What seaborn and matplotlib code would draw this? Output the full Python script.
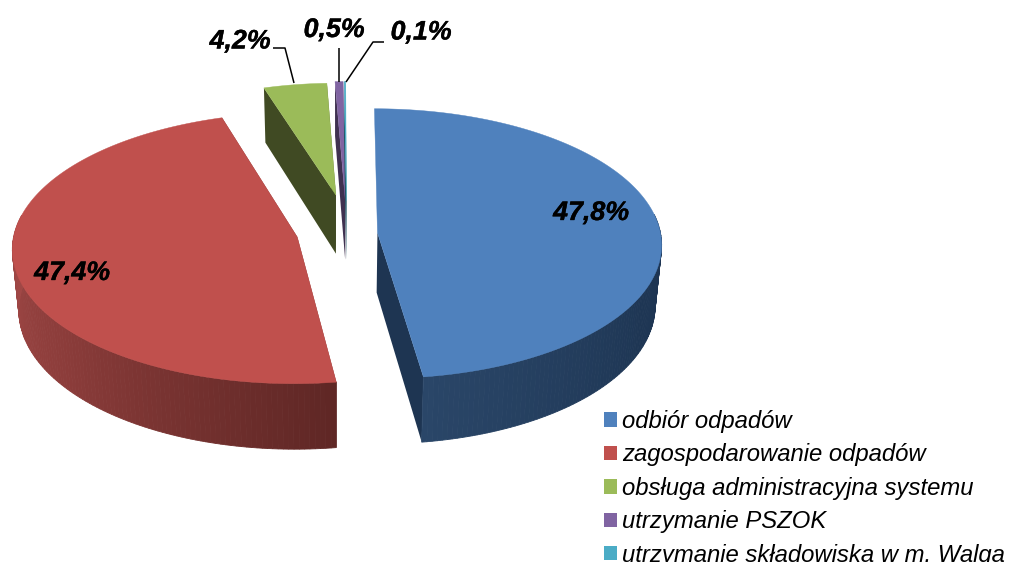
import numpy as np
import seaborn as sns
import matplotlib.pyplot as plt
import matplotlib.patheffects as pe
from matplotlib.patches import Patch

# values
categories = ["odbiór odpadów", "zagospodarowanie odpadów", "obsługa administracyjna systemu",
              "utrzymanie PSZOK", "utrzymanie składowiska w m. Walga"]
shares = [47.8, 47.4, 4.2, 0.5, 0.1]
share_labels = ["47,8%", "47,4%", "4,2%", "0,5%", "0,1%"]

# styling
top_colors = ["#4F81BD", "#C0504D", "#9BBB59", "#8064A2", "#4BACC6"]
side_colors = ["#1E3552", "#5F2725", "#404A23", "#3F3150", "#1F5566"]
rim_stops = [["#1C3350", "#1C3350", "#1E3654", "#2A4668"],
             ["#5F2725", "#8B3C3A", "#A84C4A", "#A84C4A"],
             ["#404A23", "#404A23"], ["#3F3150", "#3F3150"], ["#1F5566", "#1F5566"]]
explode = [(0.143, 0.003), (-0.140, -0.030), (-0.004, 0.290), (0.030, 0.245), (0.034, 0.245)]
radius = [1, 1, 0.94, 1, 1]
label_pos = [(591, 213), (72, 273), (240, 41.5), (334, 30), (421, 32.5)]
leaders = [[(273, 48), (285, 48), (294, 83)],
           [(339, 48), (339, 82)],
           [(346, 82), (373, 42), (384, 42)]]

# perspective of the tilted pie, in pixels
CX, CY = 337, 233
A, B = 283, 134
K = 0.0815
DEPTH = 60


def project(u, v, z=0.0):
    s = 1 / (1 + K * v)
    x = CX + A * u * s * (1 - 0.02 * z)
    y = CY - B * v * s + z * DEPTH * s
    return x, y


sns.set_theme(style="white")
plt.rcParams["font.family"] = ["Liberation Sans", "DejaVu Sans"]

fig = plt.figure(figsize=(10.09, 5.62), dpi=100)
ax = fig.add_axes([0, 0, 1, 1])
ax.set_xlim(0, 1009)
ax.set_ylim(562, 0)
ax.axis("off")

edges = np.concatenate([[0], np.cumsum(shares)]) / np.sum(shares) * 2 * np.pi

# small slices first, the two big ones on top
for i in [2, 3, 4, 1, 0]:
    start, end = edges[i], edges[i + 1]
    eu, ev = explode[i]
    r = radius[i]
    t = np.linspace(start, end, max(int(np.degrees(end - start)), 2) + 1)
    u = eu + r * np.sin(t)
    v = ev + r * np.cos(t)

    # cut faces of the wedge
    for a in [start, end]:
        if a == 0:
            continue
        ru, rv = eu + r * np.sin(a), ev + r * np.cos(a)
        pts = [project(eu, ev), project(ru, rv), project(ru, rv, 1), project(eu, ev, 1)]
        ax.fill(*zip(*pts), color=side_colors[i], lw=0)

    # outer wall, shaded along the arc, the back part is hidden anyway
    shades = sns.blend_palette(rim_stops[i], len(t))
    for j in range(len(t) - 1):
        if np.cos(t[j]) > 0.15:
            continue
        pts = [project(u[j], v[j]), project(u[j + 1], v[j + 1]),
               project(u[j + 1], v[j + 1], 1), project(u[j], v[j], 1)]
        ax.fill(*zip(*pts), color=shades[j], lw=0.6)

    # top face
    x, y = project(np.r_[eu, u], np.r_[ev, v])
    ax.fill(x, y, color=top_colors[i], lw=0.3)

for lab, (x, y) in zip(share_labels, label_pos):
    ax.text(x, y, lab, ha="center", va="center", fontsize=19.3,
            fontweight="bold", fontstyle="italic", color="black",
            path_effects=[pe.withStroke(linewidth=0.25, foreground="black")])

for line in leaders:
    ax.plot(*zip(*line), color="black", lw=1.1, solid_capstyle="butt")

handles = [Patch(facecolor=c, edgecolor="none") for c in top_colors]
ax.legend(handles, categories, loc="upper left", bbox_to_anchor=(604, 410),
          bbox_transform=ax.transData, frameon=False, borderpad=0, borderaxespad=0,
          prop={"size": 17.2, "style": "italic"}, labelcolor="black",
          handlelength=0.55, handleheight=0.55, handletextpad=0.2, labelspacing=0.435)

fig.savefig("out.png", dpi=100)
